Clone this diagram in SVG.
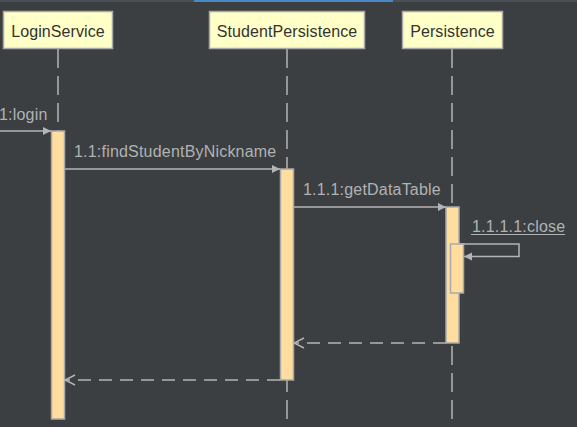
<svg xmlns="http://www.w3.org/2000/svg" width="577" height="427" viewBox="0 0 577 427">
<style>
.box{fill:#ffffc8;stroke:#a9a9a9;stroke-width:1.5}
.name{font-family:"Liberation Sans",Arial,sans-serif;font-size:16px;fill:#333333;text-anchor:middle;letter-spacing:0.1px}
.life{stroke:#b4b4b4;stroke-width:1.5;stroke-dasharray:19 8;fill:none}
.act{fill:#ffdd9f;stroke:#a9a9a9;stroke-width:1.5}
.msg{stroke:#b4b4b4;stroke-width:1.5;fill:none}
.ret{stroke:#b4b4b4;stroke-width:1.5;fill:none;stroke-dasharray:13 8}
.lbl{font-family:"Liberation Sans",Arial,sans-serif;font-size:16px;fill:#b0b2b4;letter-spacing:0.2px}
</style>
<defs>
<marker id="filled" markerWidth="10" markerHeight="10" refX="9" refY="5" orient="auto" markerUnits="userSpaceOnUse">
<path d="M1,1 L9,5 L1,9 Z" fill="#b4b4b4"/>
</marker>
<marker id="open" markerWidth="12" markerHeight="12" refX="11" refY="6" orient="auto" markerUnits="userSpaceOnUse">
<path d="M1,1 L11,6 L1,11" fill="none" stroke="#b4b4b4" stroke-width="1.5"/>
</marker>
</defs>
<rect x="0" y="0" width="577" height="427" fill="#3c3f41"/>
<rect x="0" y="0" width="577" height="2" fill="#4b5056"/>
<rect x="194" y="0" width="199" height="2" fill="#4a88c7"/>

<g id="LoginService">
<line class="life" x1="58" y1="49" x2="58" y2="422"/>
<rect class="box" x="3.5" y="11.5" width="109" height="37"/>
<text class="name" x="58" y="37">LoginService</text>
<rect class="act" x="51.5" y="131" width="13" height="288"/>
</g>
<g id="StudentPersistence">
<line class="life" x1="287" y1="49" x2="287" y2="420"/>
<rect class="box" x="209.5" y="11.5" width="155" height="37"/>
<text class="name" x="287" y="37">StudentPersistence</text>
<rect class="act" x="280.5" y="169" width="13" height="211"/>
</g>
<g id="Persistence">
<line class="life" x1="452" y1="49" x2="452" y2="420"/>
<rect class="box" x="402.5" y="11.5" width="100" height="37"/>
<text class="name" x="452.5" y="37">Persistence</text>
<rect class="act" x="446" y="207" width="13" height="136"/>
<rect class="act" x="450.5" y="244" width="13" height="49"/>
</g>

<g id="connectors">
<line class="msg" x1="0" y1="131" x2="51" y2="131" marker-end="url(#filled)"/>
<text class="lbl" x="-1" y="120">1:login</text>
<line class="msg" x1="65" y1="169" x2="280" y2="169" marker-end="url(#filled)"/>
<text class="lbl" x="74" y="157">1.1:findStudentByNickname</text>
<line class="msg" x1="294" y1="207" x2="446" y2="207" marker-end="url(#filled)"/>
<text class="lbl" x="303" y="195">1.1.1:getDataTable</text>
<polyline class="msg" points="459,244 519,244 519,256.5 464,256.5" marker-end="url(#filled)"/>
<text class="lbl" x="472" y="232">1.1.1.1:close</text>
<line x1="471" y1="234.5" x2="565" y2="234.5" stroke="#b0b2b4" stroke-width="1"/>
<line class="ret" x1="446" y1="343" x2="294" y2="343" marker-end="url(#open)"/>
<line class="ret" x1="280" y1="380" x2="65" y2="380" marker-end="url(#open)"/>
</g>
</svg>
